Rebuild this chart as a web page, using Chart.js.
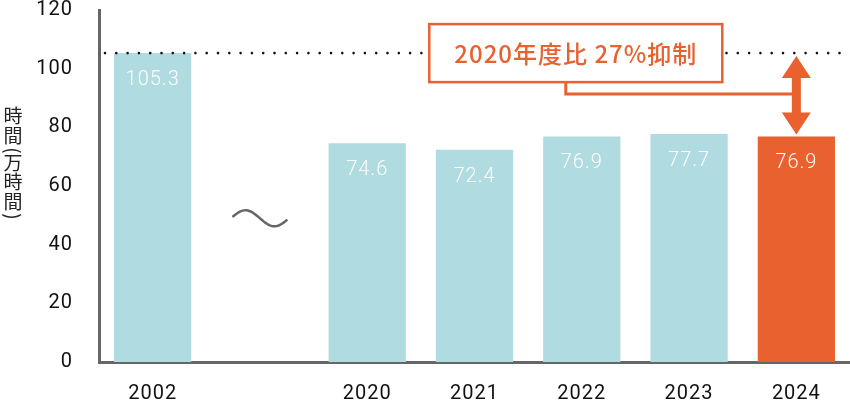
<!DOCTYPE html>
<html lang="ja">
<head>
<meta charset="utf-8">
<script src="https://cdn.jsdelivr.net/npm/chart.js@4.4.1/dist/chart.umd.min.js"></script>
<title>時間（万時間）</title>
<style>
html, body { margin: 0; padding: 0; background: #fff; }
#wrap { width: 850px; height: 401px; }
</style>
</head>
<body>
<div id="wrap"><canvas id="chart"></canvas></div>
<script>
// data
const years = ['2002', '', '2020', '2021', '2022', '2023', '2024'];
const hours = [105.3, null, 74.6, 72.4, 76.9, 77.7, 76.9];
const yTicks = [0, 20, 40, 60, 80, 100, 120];
const yTitle = ['時', '間', '(', '万', '時', '間', ')'];
const calloutText = '2020年度比 27%抑制';
const gapValue = 49;   // height of the ~ mark in the gap column

const BLUE = '#b0dbe0';
const ORANGE = '#e8612f';
const AXIS = '#666666';
const NUM_FONT = 'Roboto, "Noto Sans", sans-serif';
const JP_FONT = '"Noto Sans CJK JP", "Noto Sans", sans-serif';

const barColors = hours.map((v, i) => i === hours.length - 1 ? ORANGE : BLUE);

const spacing = {
  id: 'spacing',
  beforeDraw(chart) { chart.ctx.letterSpacing = '1px'; }
};

const deco = {
  id: 'deco',
  afterDatasetsDraw(chart) {
    const { ctx, chartArea, scales: { x, y } } = chart;
    const meta = chart.getDatasetMeta(0);
    ctx.save();

    // values inside bars
    ctx.font = '300 20px ' + NUM_FONT;
    ctx.letterSpacing = '1px';
    ctx.fillStyle = '#fff';
    ctx.textAlign = 'center';
    ctx.textBaseline = 'middle';
    meta.data.forEach((bar, i) => {
      if (hours[i] == null) return;
      ctx.fillText(hours[i].toFixed(1), bar.x, bar.y + 27);
    });

    // dotted line at the 2002 level
    const refY = y.getPixelForValue(hours[0]);
    ctx.fillStyle = '#111';
    for (let px = chartArea.left + 6; px < chartArea.right; px += 11.3) {
      ctx.beginPath();
      ctx.arc(px, refY, 1.3, 0, Math.PI * 2);
      ctx.fill();
    }

    // ~ in the gap column
    const cx = x.getPixelForValue(1);
    const cy = y.getPixelForValue(gapValue);
    ctx.strokeStyle = AXIS;
    ctx.lineWidth = 2.5;
    ctx.lineCap = 'round';
    ctx.beginPath();
    for (let k = 0; k <= 40; k++) {
      const t = -0.92 * Math.PI + k * (1.84 * Math.PI / 40);
      const px = cx + 29 * t / Math.PI;
      const py = cy + 8 * Math.sin(t);
      k ? ctx.lineTo(px, py) : ctx.moveTo(px, py);
    }
    ctx.stroke();

    // callout box
    const last = meta.data[hours.length - 1];
    const boxW = 293, boxH = 58;
    const boxX = x.getPixelForValue(4) - 6 - boxW / 2;
    const boxY = refY - boxH / 2;
    ctx.fillStyle = '#fff';
    ctx.fillRect(boxX, boxY, boxW, boxH);
    ctx.strokeStyle = ORANGE;
    ctx.lineWidth = 2.5;
    ctx.lineCap = 'butt';
    ctx.strokeRect(boxX, boxY, boxW, boxH);
    ctx.fillStyle = ORANGE;
    ctx.font = '500 24px ' + JP_FONT;
    ctx.letterSpacing = '1px';
    ctx.fillText(calloutText, boxX + boxW / 2, refY + 1);

    // connector from box to arrow
    const lx = boxX + boxW / 2 - 10;
    ctx.lineWidth = 3;
    ctx.beginPath();
    ctx.moveTo(lx, boxY + boxH);
    ctx.lineTo(lx, refY + 41);
    ctx.lineTo(last.x, refY + 41);
    ctx.stroke();

    // double arrow between 2002 level and 2024 bar
    const top = refY + 3, bot = last.y - 2;
    const hw = 14.5, hh = 22, sw = 4.5;
    ctx.beginPath();
    ctx.moveTo(last.x, top);
    ctx.lineTo(last.x + hw, top + hh);
    ctx.lineTo(last.x + sw, top + hh);
    ctx.lineTo(last.x + sw, bot - hh);
    ctx.lineTo(last.x + hw, bot - hh);
    ctx.lineTo(last.x, bot);
    ctx.lineTo(last.x - hw, bot - hh);
    ctx.lineTo(last.x - sw, bot - hh);
    ctx.lineTo(last.x - sw, top + hh);
    ctx.lineTo(last.x - hw, top + hh);
    ctx.closePath();
    ctx.fill();

    // vertical axis title, brackets turned sideways
    ctx.fillStyle = '#222';
    ctx.font = '19px ' + JP_FONT;
    ctx.letterSpacing = '0px';
    const isParen = ch => ch === '(' || ch === ')';
    let ty = 116;
    yTitle.forEach((ch, i) => {
      if (i > 0) ty += isParen(ch) ? 15 : isParen(yTitle[i - 1]) ? 12 : 19.5;
      if (isParen(ch)) {
        ctx.save();
        ctx.translate(13, ty);
        ctx.rotate(Math.PI / 2);
        ctx.fillText(ch, 0, 0);
        ctx.restore();
      } else {
        ctx.fillText(ch, 13, ty);
      }
    });

    ctx.restore();
  }
};

new Chart(document.getElementById('chart'), {
  type: 'bar',
  data: {
    labels: years,
    datasets: [{
      data: hours,
      backgroundColor: barColors,
      borderWidth: 0,
      categoryPercentage: 1,
      barPercentage: 0.72
    }]
  },
  options: {
    responsive: true,
    maintainAspectRatio: false,
    animation: false,
    layout: { padding: { top: 10, left: 0, right: 0, bottom: 0 } },
    plugins: { legend: { display: false }, tooltip: { enabled: false } },
    scales: {
      x: {
        grid: { display: false, drawTicks: false },
        border: { display: true, color: AXIS, width: 3 },
        ticks: {
          color: '#111', font: { family: NUM_FONT, size: 20 },
          padding: 20, autoSkip: false, maxRotation: 0
        },
        afterFit(s) { s.height = 39; s.paddingLeft = 0; s.paddingRight = 0; }
      },
      y: {
        min: 0, max: 120,
        afterBuildTicks(s) { s.ticks = yTicks.map(v => ({ value: v })); },
        grid: { display: false, drawTicks: false },
        border: { display: true, color: AXIS, width: 3 },
        ticks: { color: '#111', font: { family: NUM_FONT, size: 20 }, padding: 26 },
        afterFit(s) { s.width = 99; s.paddingTop = 0; s.paddingBottom = 0; }
      }
    }
  },
  plugins: [spacing, deco]
});
</script>
</body>
</html>
